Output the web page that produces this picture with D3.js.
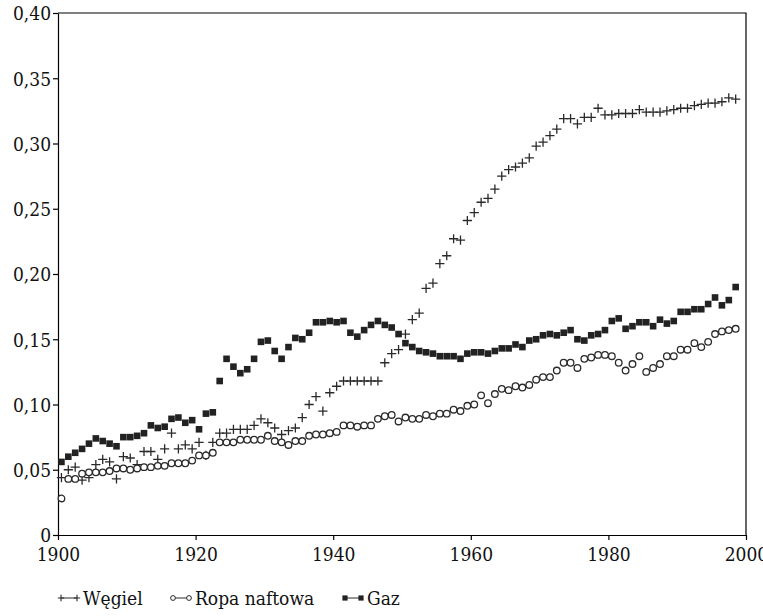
<!DOCTYPE html>
<html>
<head>
<meta charset="utf-8">
<script src="https://cdn.jsdelivr.net/npm/d3@7"></script>
<style>
  body { margin: 0; background: #fff; }
  .axis path, .axis line { stroke: #000; stroke-width: 1.2; }
</style>
</head>
<body>
<div id="chart"></div>
<script>
// years 1900..1998, points sit in the middle of each year
const years = d3.range(1900, 1999)

const wegiel = [
    0.044, 0.050, 0.052, 0.042, 0.044, 0.054, 0.058, 0.056, 0.043, 0.060,
    0.059, 0.054, 0.064, 0.064, 0.058, 0.066, 0.078, 0.066, 0.069, 0.066,
    0.071, 0.061, 0.071, 0.078, 0.078, 0.081, 0.081, 0.081, 0.084, 0.089,
    0.086, 0.082, 0.077, 0.080, 0.082, 0.090, 0.100, 0.106, 0.095, 0.109,
    0.114, 0.118, 0.118, 0.118, 0.118, 0.118, 0.118, 0.132, 0.139, 0.142,
    0.154, 0.165, 0.170, 0.189, 0.193, 0.208, 0.214, 0.227, 0.226, 0.241,
    0.247, 0.255, 0.258, 0.265, 0.275, 0.280, 0.282, 0.285, 0.289, 0.298,
    0.301, 0.306, 0.311, 0.319, 0.319, 0.315, 0.320, 0.320, 0.327, 0.322,
    0.322, 0.323, 0.323, 0.323, 0.326, 0.324, 0.324, 0.324, 0.325, 0.326,
    0.327, 0.327, 0.329, 0.330, 0.331, 0.331, 0.332, 0.335, 0.334
]

const ropa = [
    0.028, 0.043, 0.043, 0.047, 0.048, 0.048, 0.048, 0.049, 0.051, 0.051,
    0.050, 0.051, 0.052, 0.052, 0.053, 0.053, 0.055, 0.055, 0.055, 0.057,
    0.061, 0.061, 0.063, 0.071, 0.071, 0.071, 0.073, 0.073, 0.073, 0.073,
    0.076, 0.072, 0.071, 0.069, 0.072, 0.072, 0.076, 0.077, 0.077, 0.078,
    0.079, 0.084, 0.084, 0.083, 0.084, 0.084, 0.089, 0.091, 0.092, 0.087,
    0.090, 0.089, 0.089, 0.092, 0.091, 0.093, 0.093, 0.096, 0.095, 0.099,
    0.100, 0.107, 0.101, 0.108, 0.112, 0.111, 0.114, 0.113, 0.115, 0.119,
    0.121, 0.121, 0.126, 0.132, 0.132, 0.128, 0.135, 0.136, 0.138, 0.138,
    0.137, 0.132, 0.126, 0.131, 0.137, 0.125, 0.128, 0.131, 0.137, 0.137,
    0.142, 0.142, 0.147, 0.144, 0.148, 0.154, 0.156, 0.157, 0.158
]

const gaz = [
    0.056, 0.060, 0.063, 0.066, 0.070, 0.074, 0.072, 0.070, 0.068, 0.075,
    0.075, 0.076, 0.078, 0.084, 0.082, 0.083, 0.089, 0.090, 0.086, 0.088,
    0.081, 0.093, 0.094, 0.118, 0.135, 0.129, 0.124, 0.127, 0.135, 0.148,
    0.149, 0.141, 0.135, 0.144, 0.151, 0.150, 0.155, 0.163, 0.163, 0.164,
    0.163, 0.164, 0.155, 0.152, 0.157, 0.161, 0.164, 0.161, 0.159, 0.154,
    0.147, 0.144, 0.141, 0.140, 0.139, 0.137, 0.137, 0.137, 0.135, 0.139,
    0.140, 0.140, 0.139, 0.141, 0.143, 0.143, 0.146, 0.144, 0.149, 0.150,
    0.153, 0.154, 0.153, 0.155, 0.157, 0.150, 0.149, 0.153, 0.154, 0.157,
    0.164, 0.166, 0.158, 0.160, 0.163, 0.163, 0.160, 0.165, 0.162, 0.164,
    0.171, 0.171, 0.173, 0.173, 0.177, 0.182, 0.176, 0.180, 0.190
]

const xTicks = [1900, 1920, 1940, 1960, 1980, 2000]
const yTicks = [0, 0.05, 0.10, 0.15, 0.20, 0.25, 0.30, 0.35, 0.40]
const seriesNames = ["Węgiel", "Ropa naftowa", "Gaz"]

const FONT = "'DejaVu Serif Condensed', 'DejaVu Serif', serif"

const dimensions = {
    width: 763,
    height: 616,
    margin: { top: 13, right: 17, bottom: 81, left: 58 },
}
dimensions.boundedWidth = dimensions.width - dimensions.margin.left - dimensions.margin.right
dimensions.boundedHeight = dimensions.height - dimensions.margin.top - dimensions.margin.bottom

const wrapper = d3.select("#chart")
    .append("svg")
    .attr("width", dimensions.width)
    .attr("height", dimensions.height)
    .style("display", "block")
    .style("font-family", FONT)

const bounds = wrapper.append("g")
    .attr("transform", `translate(${dimensions.margin.left},${dimensions.margin.top})`)

const xScale = d3.scaleLinear()
    .domain([1900, 2000])
    .range([0, dimensions.boundedWidth])

const yScale = d3.scaleLinear()
    .domain([0, 0.40])
    .range([dimensions.boundedHeight, 0])

const fmt = d => d === 0 ? "0" : d3.format(".2f")(d).replace(".", ",")

// axes
const xAxis = bounds.append("g")
    .attr("class", "axis")
    .attr("transform", `translate(0,${dimensions.boundedHeight})`)
    .call(d3.axisBottom(xScale).tickValues(xTicks).tickFormat(d3.format("d")).tickSize(5).tickSizeOuter(0))

const yAxis = bounds.append("g")
    .attr("class", "axis")
    .call(d3.axisLeft(yScale).tickValues(yTicks).tickFormat(fmt).tickSize(5).tickSizeOuter(0))

;[xAxis, yAxis].forEach(ax => ax
    .attr("font-family", FONT)
    .attr("font-size", 19)
    .selectAll("text")
    .style("font-family", FONT)
    .attr("fill", "#111"))
xAxis.selectAll("text").attr("dy", "0.95em")
yAxis.selectAll("text").attr("x", -7).attr("dy", "0.36em")

// frame top + right
bounds.append("path")
    .attr("d", `M0,0H${dimensions.boundedWidth}V${dimensions.boundedHeight}`)
    .attr("fill", "none")
    .attr("stroke", "#000")
    .attr("stroke-width", 1.2)

const xPos = y => xScale(y + 0.5)

// markers
const plusPath = s => `M${-s},0H${s}M0,${-s}V${s}`

bounds.append("g").selectAll("path")
    .data(years)
    .join("path")
    .attr("transform", (d, i) => `translate(${xPos(d)},${yScale(wegiel[i])})`)
    .attr("d", plusPath(4.6))
    .attr("stroke", "#2a2a2a")
    .attr("stroke-width", 1.3)
    .attr("fill", "none")

bounds.append("g").selectAll("circle")
    .data(years)
    .join("circle")
    .attr("cx", d => xPos(d))
    .attr("cy", (d, i) => yScale(ropa[i]))
    .attr("r", 3.3)
    .attr("fill", "#fff")
    .attr("stroke", "#2a2a2a")
    .attr("stroke-width", 1.3)

const sq = 6.6
bounds.append("g").selectAll("rect")
    .data(years)
    .join("rect")
    .attr("x", d => xPos(d) - sq / 2)
    .attr("y", (d, i) => yScale(gaz[i]) - sq / 2)
    .attr("width", sq)
    .attr("height", sq)
    .attr("fill", "#222")

// legend
const legend = wrapper.append("g")
    .attr("transform", "translate(61,598)")

const legendX = [0, 112, 284]
seriesNames.forEach((name, i) => {
    const g = legend.append("g").attr("transform", `translate(${legendX[i]},0)`)
    g.append("line")
        .attr("x1", 0).attr("x2", 16)
        .attr("stroke", "#2a2a2a").attr("stroke-width", 1)
    ;[0, 16].forEach(cx => {
        if (i === 0) {
            g.append("path").attr("transform", `translate(${cx},0)`)
                .attr("d", plusPath(3.2)).attr("stroke", "#2a2a2a").attr("stroke-width", 1.1)
        } else if (i === 1) {
            g.append("circle").attr("cx", cx).attr("r", 2.4)
                .attr("fill", "#fff").attr("stroke", "#2a2a2a").attr("stroke-width", 1)
        } else {
            g.append("rect").attr("x", cx - 2.6).attr("y", -2.6)
                .attr("width", 5.2).attr("height", 5.2).attr("fill", "#222")
        }
    })
    g.append("text")
        .attr("x", 22)
        .attr("y", 7)
        .attr("font-size", 19)
        .style("font-family", FONT)
        .attr("fill", "#111")
        .text(name)
})
</script>
</body>
</html>
